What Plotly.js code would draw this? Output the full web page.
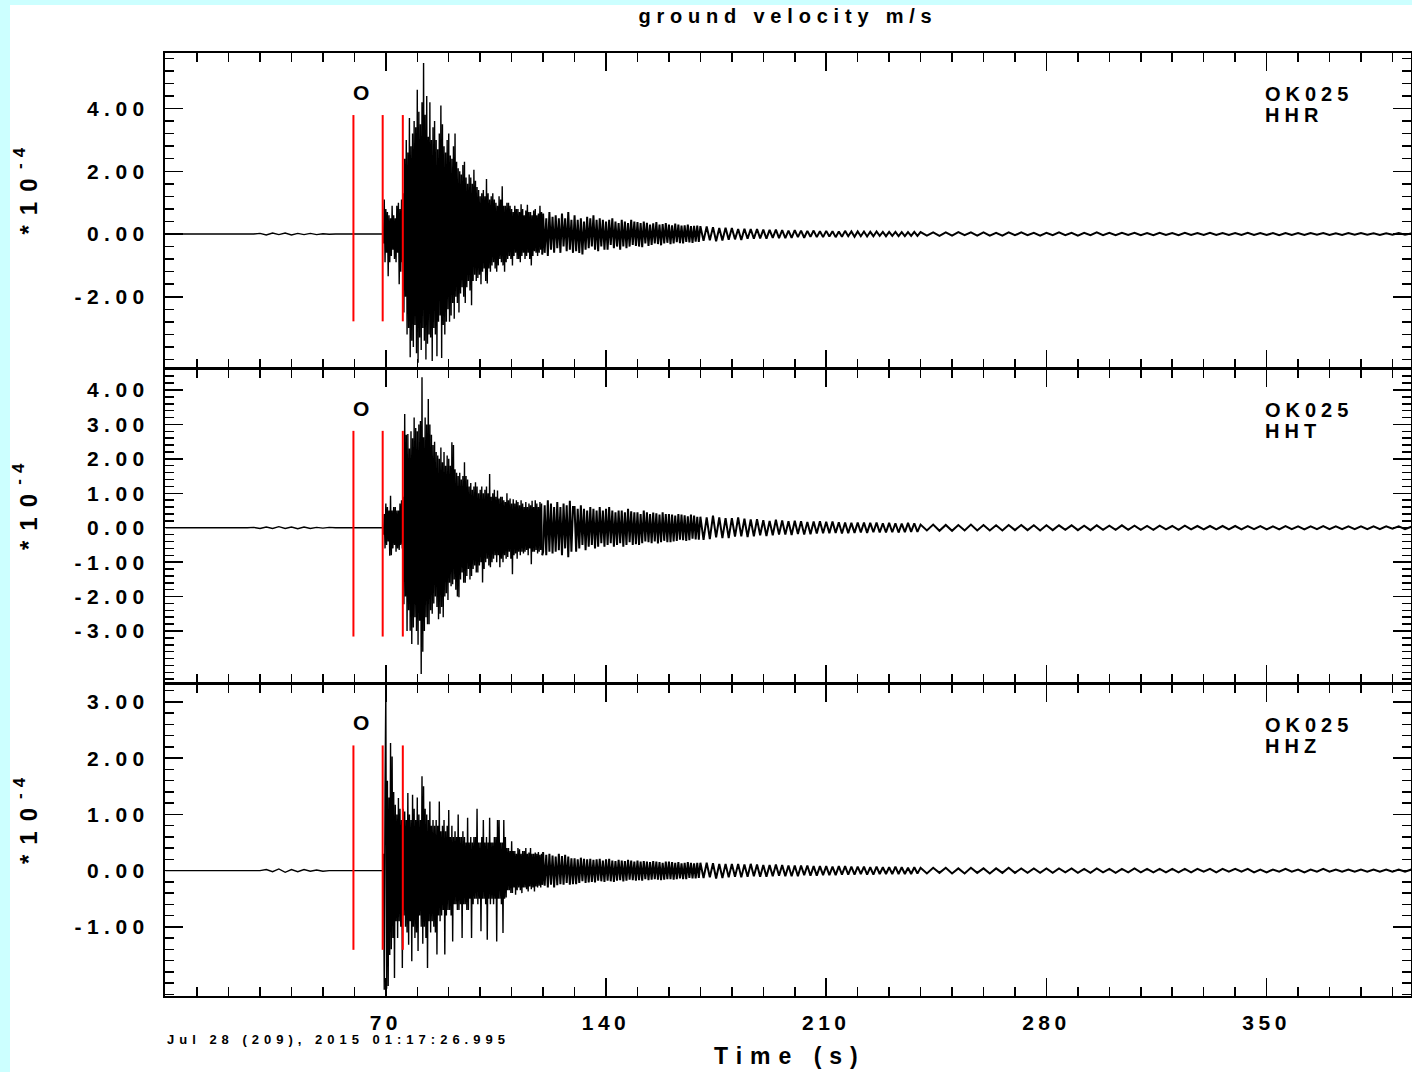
<!DOCTYPE html>
<html>
<head>
<meta charset="utf-8">
<script src="https://cdn.plot.ly/plotly-3.0.1.min.js"></script>
<style>
html,body{margin:0;padding:0;background:#ccffff;overflow:hidden;}
#sheet{position:absolute;left:10px;top:5px;width:1402px;height:1067px;background:#ffffff;}
#chart{position:absolute;left:0;top:0;width:1412px;height:1072px;}
.yaxislayer-above text{letter-spacing:5.5px;}
.xaxislayer-above text{letter-spacing:4.5px;}
.gtitle{letter-spacing:5.8px;}
text.annotation-text{letter-spacing:6px;}
text.annotation-text[data-unformatted="OK025"],
text.annotation-text[data-unformatted="HHR"],
text.annotation-text[data-unformatted="HHT"],
text.annotation-text[data-unformatted="HHZ"]{letter-spacing:5px;}
text.annotation-text[data-unformatted^="Jul"]{letter-spacing:5px;}
text.annotation-text[data-unformatted^="Time"]{letter-spacing:8px;}
text.annotation-text[data-unformatted="*10"]{letter-spacing:10px;}
text.annotation-text[data-unformatted="O"]{letter-spacing:0;}
</style>
</head>
<body>
<div id="sheet"></div>
<div id="chart"></div>
<script>
// ---------------- data ----------------
const TITLE = 'ground velocity m/s';
const STATION = 'OK025';
const CHANNELS = ['HHR', 'HHT', 'HHZ'];
const PICKS = [59.7, 69.0, 75.4];          // seconds, red pick markers
const PICK_LABEL = 'O';
const X_TICKS = [70, 140, 210, 280, 350];
const X_LABEL = 'Time (s)';
const DATE_TEXT = 'Jul 28 (209), 2015 01:17:26.995';
const Y_UNIT = '*10';
const Y_EXP = '-4';

const HHR_YTICKS = [-2, 0, 2, 4];
const HHR_YTEXT  = ['-2.00', '0.00', '2.00', '4.00'];
const HHT_YTICKS = [-3, -2, -1, 0, 1, 2, 3, 4];
const HHT_YTEXT  = ['-3.00', '-2.00', '-1.00', '0.00', '1.00', '2.00', '3.00', '4.00'];
const HHZ_YTICKS = [-1, 0, 1, 2, 3];
const HHZ_YTEXT  = ['-1.00', '0.00', '1.00', '2.00', '3.00'];

const PRE_T0 = 0,     PRE_DT = 2;
const P1_T0 = 69,     P1_DT = 0.25;
const P2_T0 = 120,    P2_DT = 0.5;
const CODA_T0 = 170,  CODA_DT = 1;
const TAIL_T0 = 240,  TAIL_DT = 2;

// amplitudes in units of 1e-4 m/s
const HHR_PRE = [0,0,0,0,0,0,0,0,0,0,0,0,0,0,0,
  0.02,-0.03,0.03,-0.02,0.03,-0.03,0.02,-0.02,0.02,-0.02,0.01,-0.01,
  0,0,0,0,0,0,0,0];
const HHR_P1 = [
  0,-0.3,1.1,-0.9,  0.8,-0.6,0.7,-1.35,  0.6,-0.9,0.5,-0.7,  0.9,-0.5,0.6,-0.8,
  0.5,-0.9,0.9,-0.6,  1.0,-1.6,0.8,-1.2,  1.1,-0.9,1.3,-2.5,  2.4,-2.0,3.0,-3.2,
  2.6,-3.0,3.7,-3.93,  2.8,-3.4,3.2,-3.6,  3.6,-2.9,3.4,-3.8,  4.6,-4.1,3.9,-3.3,
  3.5,-3.7,4.2,-3.0,  5.45,-3.4,3.8,-4.0,  4.4,-3.5,3.1,-3.2,  4.2,-3.3,3.0,-4.05,
  3.4,-3.0,3.6,-3.2,  3.0,-3.9,2.7,-2.8,  3.2,-2.6,4.1,-3.95,  3.5,-2.9,2.8,-3.2,
  2.6,-2.8,3.0,-2.4,  3.2,-2.8,2.5,-2.6,  2.4,-2.2,2.8,-2.7,  3.2,-2.0,2.3,-2.2,
  2.1,-2.5,2.0,-1.9,  1.9,-1.7,2.2,-2.0,  2.3,-2.2,1.8,-1.7,  1.6,-1.5,1.9,-1.8,
  1.8,-2.27,1.6,-1.5,  2.05,-1.3,1.7,-1.5,  1.5,-1.4,1.4,-1.3,  1.2,-1.6,1.3,-1.2,
  1.4,-1.1,1.2,-1.5,  1.75,-1.58,1.3,-1.1,  1.1,-1.2,1.2,-1.0,  1.3,-0.9,1.1,-1.1,
  1.0,-1.2,0.9,-1.0,  1.2,-0.8,1.1,-0.9,  1.52,-1.0,0.9,-1.2,  0.9,-0.9,1.0,-0.8,
  1.0,-0.7,0.9,-0.8,  0.8,-1.0,0.7,-0.7,  0.9,-0.6,0.8,-0.8,  0.8,-0.8,0.7,-0.9,
  0.95,-0.7,0.8,-0.6,  0.6,-0.8,0.75,-0.7,  0.93,-0.6,0.7,-0.8,  0.7,-1.0,0.6,-0.7,
  0.75,-0.55,0.8,-0.6,  0.6,-0.7,0.65,-0.6,  0.9,-0.5,0.7,-0.65];
const HHR_P2 = [0.65,-0.6,0.5,-0.7,0.7,-0.5,0.55,-0.6,0.6,-0.45,
  0.5,-0.6,0.65,-0.4,0.5,-0.55,0.7,-0.5,0.45,-0.6,
  0.6,-0.55,0.45,-0.6,0.5,-0.65,0.4,-0.5,0.55,-0.45,
  0.5,-0.4,0.6,-0.5,0.45,-0.55,0.5,-0.4,0.45,-0.5,
  0.4,-0.5,0.45,-0.35,0.5,-0.45,0.4,-0.4,0.35,-0.5,
  0.45,-0.4,0.4,-0.45,0.35,-0.4,0.45,-0.35,0.4,-0.38,
  0.38,-0.4,0.35,-0.42,0.4,-0.3,0.36,-0.38,0.3,-0.35,
  0.34,-0.3,0.38,-0.32,0.3,-0.36,0.32,-0.3,0.35,-0.28,
  0.3,-0.32,0.28,-0.3,0.33,-0.26,0.3,-0.29,0.27,-0.3,
  0.28,-0.25,0.3,-0.27,0.25,-0.28,0.26,-0.24,0.27,-0.25];
const HHR_CODA = [0.25,-0.22,0.24,-0.2,0.22,-0.23,0.19,-0.21,0.2,-0.18,
  0.19,-0.17,0.16,-0.19,0.17,-0.15,0.16,-0.15,0.16,-0.14,
  0.14,-0.15,0.13,-0.12,0.14,-0.13,0.12,-0.13,0.11,-0.12,
  0.12,-0.1,0.11,-0.12,0.1,-0.09,0.11,-0.1,0.09,-0.1,
  0.1,-0.08,0.09,-0.1,0.08,-0.09,0.1,-0.07,0.08,-0.09,
  0.08,-0.07,0.08,-0.08,0.07,-0.07,0.08,-0.06,0.07,-0.07,
  0.07,-0.06,0.07,-0.07,0.06,-0.07,0.06,-0.06,0.07,-0.06];
const HHR_TAIL = [0.06,-0.05,0.05,-0.06,0.05,-0.05,0.06,-0.04,0.05,-0.05,
  0.05,-0.05,0.04,-0.05,0.05,-0.04,0.05,-0.04,0.04,-0.05,
  0.04,-0.04,0.05,-0.04,0.04,-0.05,0.04,-0.04,0.05,-0.04,
  0.04,-0.04,0.04,-0.03,0.04,-0.04,0.03,-0.04,0.04,-0.03,
  0.03,-0.04,0.04,-0.03,0.03,-0.03,0.04,-0.03,0.03,-0.03,
  0.03,-0.03,0.04,-0.03,0.03,-0.03,0.03,-0.04,0.03,-0.03,
  0.03,-0.03,0.03,-0.02,0.03,-0.03,0.02,-0.03,0.03,-0.02,
  0.03,-0.02,0.02,-0.03,0.02,-0.02,0.03,-0.02,0.02];

const HHT_PRE = [0,0,0,0,0,0,0,0,0,0,0,0,0,0,
  0.01,-0.02,0.02,-0.02,0.03,-0.02,0.02,-0.03,0.02,-0.02,0.01,-0.01,0.01,
  0,0,0,0,0,0,0,0];
const HHT_P1 = [
  0,-0.2,0.4,-0.6,  0.7,-0.5,0.6,-0.4,  0.5,-0.81,0.93,-0.8,  0.5,-0.6,0.6,-0.5,
  0.6,-0.7,0.5,-0.6,  0.5,-0.65,0.7,-0.5,  0.8,-0.6,0.9,-2.22,  3.3,-2.0,2.7,-3.0,
  2.72,-2.4,2.3,-2.99,  2.8,-3.38,2.6,-2.9,  3.2,-2.6,2.9,-3.0,  2.8,-3.4,3.0,-2.7,
  3.1,-4.25,4.37,-3.6,  2.63,-3.0,3.2,-2.6,  3.0,-2.8,3.74,-2.8,  3.0,-2.4,2.7,-2.5,
  2.4,-2.2,2.5,-2.0,  2.2,-2.3,2.1,-2.66,  2.0,-2.5,2.33,-2.3,  1.9,-2.6,2.2,-2.0,
  1.8,-1.9,2.1,-2.1,  2.0,-1.6,1.8,-1.7,  2.48,-1.64,2.4,-1.5,  1.7,-1.8,1.6,-2.0,
  1.5,-2.02,1.6,-1.5,  1.4,-1.3,1.5,-1.6,  1.9,-1.6,1.5,-1.4,  1.4,-1.2,1.2,-1.5,
  1.3,-1.4,1.1,-1.2,  1.2,-1.1,1.32,-1.3,  1.2,-1.3,1.0,-1.1,  1.1,-1.0,1.2,-1.59,
  1.0,-1.2,1.1,-1.0,  1.2,-0.9,1.0,-1.1,  1.56,-1.15,0.9,-1.0,  1.0,-0.9,1.1,-0.8,
  0.9,-1.0,1.08,-0.8,  0.85,-1.15,0.9,-0.9,  0.9,-1.0,0.8,-0.8,  0.75,-0.9,1.0,-0.85,
  0.8,-0.7,0.85,-0.9,  0.7,-1.35,0.83,-0.8,  0.7,-0.75,0.8,-0.9,  0.75,-0.7,0.65,-0.8,
  0.8,-0.7,0.7,-0.75,  0.6,-0.7,0.75,-0.65,  0.6,-0.8,0.7,-0.6,  0.65,-1.06,0.78,-0.7,
  0.6,-0.7,0.8,-0.65,  0.7,-0.75,0.6,-0.7,  0.75,-0.65,0.7,-0.8];
const HHT_P2 = [-0.7,0.65,-0.8,0.8,-0.7,0.7,-0.75,0.6,-0.7,0.75,
  -0.65,0.6,-0.8,0.7,-0.6,0.65,-0.86,0.78,-0.7,0.6,
  0.6,-0.7,0.55,-0.6,0.65,-0.5,0.55,-0.65,0.5,-0.55,
  0.6,-0.5,0.55,-0.6,0.5,-0.55,0.6,-0.45,0.5,-0.55,
  0.55,-0.5,0.6,-0.45,0.5,-0.55,0.45,-0.5,0.5,-0.45,
  0.5,-0.55,0.45,-0.5,0.55,-0.42,0.48,-0.5,0.45,-0.48,
  0.45,-0.5,0.4,-0.45,0.5,-0.4,0.45,-0.42,0.4,-0.45,
  0.44,-0.4,0.42,-0.46,0.38,-0.42,0.45,-0.38,0.4,-0.42,
  0.4,-0.42,0.38,-0.4,0.35,-0.38,0.4,-0.35,0.38,-0.36,
  0.36,-0.38,0.33,-0.36,0.38,-0.32,0.35,-0.34,0.32,-0.35];
const HHT_CODA = [0.32,-0.35,0.3,-0.33,0.35,-0.28,0.3,-0.3,0.28,-0.3,
  0.28,-0.26,0.3,-0.25,0.26,-0.27,0.24,-0.25,0.25,-0.22,
  0.22,-0.24,0.2,-0.22,0.23,-0.2,0.21,-0.2,0.19,-0.21,
  0.2,-0.18,0.19,-0.2,0.17,-0.19,0.18,-0.17,0.19,-0.16,
  0.17,-0.16,0.18,-0.15,0.16,-0.17,0.15,-0.16,0.14,-0.15,
  0.15,-0.14,0.15,-0.15,0.14,-0.13,0.15,-0.14,0.13,-0.14,
  0.14,-0.13,0.13,-0.14,0.12,-0.13,0.14,-0.12,0.13,-0.12];
const HHT_TAIL = [0.09,-0.08,0.09,-0.09,0.08,-0.09,0.08,-0.08,0.09,-0.08,
  0.08,-0.08,0.07,-0.08,0.08,-0.07,0.08,-0.07,0.07,-0.08,
  0.07,-0.07,0.07,-0.06,0.07,-0.07,0.06,-0.07,0.07,-0.06,
  0.06,-0.06,0.07,-0.06,0.06,-0.06,0.05,-0.06,0.06,-0.05,
  0.05,-0.06,0.06,-0.05,0.05,-0.05,0.05,-0.05,0.05,-0.05,
  0.05,-0.05,0.05,-0.04,0.05,-0.05,0.04,-0.05,0.05,-0.04,
  0.04,-0.05,0.04,-0.04,0.05,-0.04,0.04,-0.04,0.04,-0.04,
  0.04,-0.04,0.04,-0.04,0.04,-0.03,0.04,-0.04,0.03];

const HHZ_PRE = [0,0,0,0,0,0,0,0,0,0,0,0,0,0,0,0,
  0.02,-0.02,0.03,-0.03,0.02,-0.02,0.02,-0.01,0.01,-0.01,
  0,0,0,0,0,0,0,0,0];
const HHZ_P1 = [
  0,0.3,-2.12,1.5,  3.19,-2.1,1.6,-2.05,  1.3,-1.5,2.27,-1.4,  2.03,-1.2,1.4,-1.91,
  1.17,-0.9,1.0,-1.2,  1.29,-0.9,1.1,-1.0,  0.9,-1.73,1.1,-0.8,  1.05,-1.0,0.9,-1.1,
  1.38,-1.32,1.0,-0.9,  0.9,-1.61,1.35,-1.0,  1.1,-1.2,0.9,-1.1,  1.3,-1.43,1.0,-0.8,
  0.9,-1.0,1.68,-1.3,  1.5,-1.0,1.1,-1.2,  1.0,-1.73,0.9,-0.9,  1.23,-1.1,0.8,-0.9,
  0.9,-1.0,0.8,-1.1,  0.9,-1.49,0.8,-0.8,  1.23,-0.9,0.7,-0.8,  0.8,-0.7,0.9,-1.49,
  0.7,-0.8,0.8,-0.7,  1.08,-0.7,0.6,-0.8,  0.8,-1.26,0.6,-0.6,  0.7,-0.6,0.6,-0.7,
  1.0,-0.7,0.6,-0.6,  0.6,-1.2,0.7,-0.6,  0.6,-0.6,0.5,-0.7,  0.94,-0.7,0.5,-0.5,
  0.6,-1.2,0.5,-0.6,  0.6,-0.5,0.6,-0.5,  1.1,-0.6,0.5,-0.5,  0.5,-1.08,0.6,-0.5,
  0.9,-0.5,0.5,-0.6,  0.6,-1.23,0.5,-0.5,  0.94,-0.6,0.5,-0.5,  0.5,-0.6,0.6,-0.5,
  0.6,-1.26,0.9,-0.5,  0.9,-0.5,0.5,-0.6,  0.5,-1.11,0.9,-0.5,  0.6,-0.48,0.4,-0.35,
  0.4,-0.35,0.35,-0.4,  0.52,-0.4,0.35,-0.3,  0.35,-0.43,0.3,-0.35,  0.4,-0.3,0.38,-0.35,
  0.3,-0.4,0.35,-0.3,  0.35,-0.3,0.4,-0.33,  0.3,-0.37,0.32,-0.28,  0.4,-0.33,0.3,-0.3,
  0.3,-0.37,0.32,-0.28,  0.3,-0.3,0.33,-0.27,  0.28,-0.3,0.3,-0.25];
const HHZ_P2 = [0.33,-0.27,0.28,-0.3,0.3,-0.25,0.27,-0.3,0.25,-0.26,
  0.3,-0.24,0.26,-0.25,0.28,-0.22,0.25,-0.25,0.22,-0.24,
  0.22,-0.24,0.2,-0.22,0.23,-0.19,0.21,-0.22,0.2,-0.21,
  0.21,-0.2,0.19,-0.21,0.2,-0.18,0.21,-0.19,0.18,-0.2,
  0.2,-0.18,0.21,-0.19,0.18,-0.2,0.17,-0.18,0.19,-0.17,
  0.18,-0.19,0.17,-0.18,0.19,-0.16,0.18,-0.17,0.16,-0.18,
  0.18,-0.17,0.16,-0.18,0.17,-0.15,0.16,-0.17,0.15,-0.16,
  0.17,-0.15,0.16,-0.16,0.15,-0.17,0.14,-0.16,0.16,-0.15,
  0.16,-0.15,0.15,-0.16,0.14,-0.15,0.15,-0.14,0.13,-0.15,
  0.14,-0.15,0.15,-0.13,0.14,-0.14,0.13,-0.14,0.14,-0.13];
const HHZ_CODA = [0.14,-0.13,0.14,-0.12,0.13,-0.14,0.12,-0.13,0.12,-0.12,
  0.12,-0.11,0.12,-0.12,0.11,-0.11,0.12,-0.1,0.11,-0.11,
  0.1,-0.11,0.1,-0.1,0.11,-0.09,0.1,-0.1,0.09,-0.1,
  0.09,-0.1,0.09,-0.08,0.09,-0.09,0.08,-0.09,0.08,-0.08,
  0.08,-0.08,0.07,-0.08,0.08,-0.07,0.08,-0.07,0.07,-0.07,
  0.07,-0.06,0.07,-0.07,0.06,-0.07,0.07,-0.06,0.06,-0.06,
  0.06,-0.06,0.07,-0.06,0.06,-0.06,0.05,-0.06,0.06,-0.05];
const HHZ_TAIL = [0.05,-0.05,0.05,-0.04,0.05,-0.05,0.04,-0.05,0.05,-0.04,
  0.04,-0.05,0.04,-0.04,0.05,-0.04,0.04,-0.04,0.04,-0.04,
  0.04,-0.04,0.04,-0.03,0.04,-0.04,0.03,-0.04,0.04,-0.03,
  0.03,-0.04,0.03,-0.03,0.04,-0.03,0.03,-0.03,0.03,-0.03,
  0.03,-0.03,0.03,-0.03,0.03,-0.02,0.03,-0.03,0.03,-0.02,
  0.03,-0.02,0.03,-0.03,0.02,-0.03,0.02,-0.02,0.03,-0.02,
  0.02,-0.03,0.02,-0.02,0.03,-0.02,0.02,-0.02,0.02,-0.02,
  0.02,-0.02,0.02,-0.02,0.02,-0.02,0.02,-0.02,0.02];

// ---------------- build ----------------
function segment(t0, dt, vals, xs, ys) {
  vals.forEach((v, i) => { xs.push(t0 + i * dt); ys.push(v); });
}
function early(pre, p1) {
  const x = [], y = [];
  segment(PRE_T0, PRE_DT, pre, x, y);
  segment(P1_T0, P1_DT, p1, x, y);
  return {x, y};
}
function late(p1, p2, coda, tail) {
  const last = p1.length - 1;
  const x = [P1_T0 + last * P1_DT], y = [p1[last]];   // join to the end of the early part
  segment(P2_T0, P2_DT, p2, x, y);
  segment(CODA_T0, CODA_DT, coda, x, y);
  segment(TAIL_T0, TAIL_DT, tail, x, y);
  return {x, y};
}
const channelData = [
  [HHR_PRE, HHR_P1, HHR_P2, HHR_CODA, HHR_TAIL],
  [HHT_PRE, HHT_P1, HHT_P2, HHT_CODA, HHT_TAIL],
  [HHZ_PRE, HHZ_P1, HHZ_P2, HHZ_CODA, HHZ_TAIL]
];

const FONT = 'Liberation Sans, Arial, Helvetica, sans-serif';
const axSuffix = ['', '2', '3'];
const data = [];
channelData.forEach((c, k) => {
  const a = early(c[0], c[1]);
  const b = late(c[1], c[2], c[3], c[4]);
  data.push({type: 'scatter', mode: 'lines', x: a.x, y: a.y,
    xaxis: 'x' + axSuffix[k], yaxis: 'y' + axSuffix[k],
    line: {color: '#000000', width: 1.4, simplify: false}, hoverinfo: 'skip'});
  data.push({type: 'scatter', mode: 'lines', x: b.x, y: b.y,
    xaxis: 'x' + axSuffix[k], yaxis: 'y' + axSuffix[k],
    line: {color: '#000000', width: 2.0, simplify: false}, hoverinfo: 'skip'});
});

const yDomains = [[0.666, 1], [0.3319, 0.6649], [0, 0.3309]];
const yRanges = [[-4.27, 5.77], [-4.51, 4.61], [-2.23, 3.32]];
const yTicks = [HHR_YTICKS, HHT_YTICKS, HHZ_YTICKS];
const yTexts = [HHR_YTEXT, HHT_YTEXT, HHZ_YTEXT];
const yMinor = [0.4, 0.2, 0.2];

const layout = {
  width: 1412, height: 1072,
  paper_bgcolor: 'rgba(0,0,0,0)', plot_bgcolor: 'rgba(0,0,0,0)',
  margin: {l: 165, r: 1, t: 53, b: 76},
  showlegend: false,
  title: {text: TITLE, x: 0.5, xref: 'paper', xanchor: 'center',
          y: 1 - 16 / 1072, yref: 'container', yanchor: 'middle',
          font: {family: FONT, size: 20, weight: 'bold', color: '#000'}},
  shapes: [], annotations: []
};

for (let k = 0; k < 3; k++) {
  const s = axSuffix[k];
  layout['xaxis' + s] = {
    domain: [0, 1], anchor: 'y' + s, range: [-0.2, 395.9],
    tickmode: 'array', tickvals: X_TICKS, ticktext: X_TICKS.map(String),
    showticklabels: k === 2,
    ticks: 'inside', ticklen: 18, tickwidth: 1.5, tickcolor: '#000',
    minor: {tickmode: 'linear', tick0: 0, dtick: 10, ticks: 'inside', ticklen: 9, tickwidth: 1.5, tickcolor: '#000', showgrid: false},
    mirror: 'allticks', showline: true, linecolor: '#000', linewidth: 2,
    showgrid: false, zeroline: false, fixedrange: true,
    ticklabelstandoff: 7,
    tickfont: {family: FONT, size: 21, weight: 'bold', color: '#000'}
  };
  layout['yaxis' + s] = {
    domain: yDomains[k], anchor: 'x' + s, range: yRanges[k],
    tickmode: 'array', tickvals: yTicks[k], ticktext: yTexts[k],
    ticks: 'inside', ticklen: 18, tickwidth: 1.5, tickcolor: '#000',
    minor: {tickmode: 'linear', tick0: 0, dtick: yMinor[k], ticks: 'inside', ticklen: 9, tickwidth: 1.5, tickcolor: '#000', showgrid: false},
    mirror: 'allticks', showline: true, linecolor: '#000', linewidth: 2,
    showgrid: false, zeroline: false, fixedrange: true,
    ticklabelstandoff: 9,
    tickfont: {family: FONT, size: 21, weight: 'bold', color: '#000'}
  };
  // pick markers
  PICKS.forEach(p => {
    layout.shapes.push({type: 'line', xref: 'x' + s, yref: 'y' + s + ' domain',
      x0: p, x1: p, y0: 0.148, y1: 0.803, layer: 'above',
      line: {color: '#ff0000', width: 2}});
  });
  layout.annotations.push({xref: 'x' + s, yref: 'y' + s + ' domain', x: PICKS[0], xshift: 8,
    y: 0.875, xanchor: 'center', yanchor: 'middle', showarrow: false, text: PICK_LABEL,
    font: {family: FONT, size: 21, weight: 'bold', color: '#000'}});
  layout.annotations.push({xref: 'paper', yref: 'y' + s + ' domain', x: 0.8812, y: 0.870,
    xanchor: 'left', yanchor: 'middle', showarrow: false, text: STATION,
    font: {family: FONT, size: 20, weight: 'bold', color: '#000'}});
  layout.annotations.push({xref: 'paper', yref: 'y' + s + ' domain', x: 0.8812, y: 0.802,
    xanchor: 'left', yanchor: 'middle', showarrow: false, text: CHANNELS[k],
    font: {family: FONT, size: 20, weight: 'bold', color: '#000'}});
  layout.annotations.push({xref: 'paper', yref: 'y' + s + ' domain', x: -0.1096, y: 0.53,
    xanchor: 'center', yanchor: 'middle', showarrow: false, text: Y_UNIT, textangle: -90,
    font: {family: FONT, size: 24, weight: 'bold', color: '#000'}});
  layout.annotations.push({xref: 'paper', yref: 'y' + s + ' domain', x: -0.1172, y: 0.676,
    xanchor: 'center', yanchor: 'middle', showarrow: false, text: Y_EXP, textangle: -90,
    font: {family: FONT, size: 17, weight: 'bold', color: '#000'}});
}
layout.annotations.push({xref: 'paper', yref: 'paper', x: 0, y: -0.0456,
  xanchor: 'left', yanchor: 'middle', showarrow: false, text: DATE_TEXT,
  font: {family: FONT, size: 13, weight: 'bold', color: '#000'}});
layout.annotations.push({xref: 'paper', yref: 'paper', x: 0.5016, y: -0.0636,
  xanchor: 'center', yanchor: 'middle', showarrow: false, text: X_LABEL,
  font: {family: FONT, size: 23, weight: 'bold', color: '#000'}});

Plotly.newPlot('chart', data, layout, {displayModeBar: false, staticPlot: true}).then(gd => {
  // drop empty placeholder texts (unused axis titles)
  gd.querySelectorAll('text').forEach(t => { if (!t.textContent.trim()) t.remove(); });
});
</script>
</body>
</html>
